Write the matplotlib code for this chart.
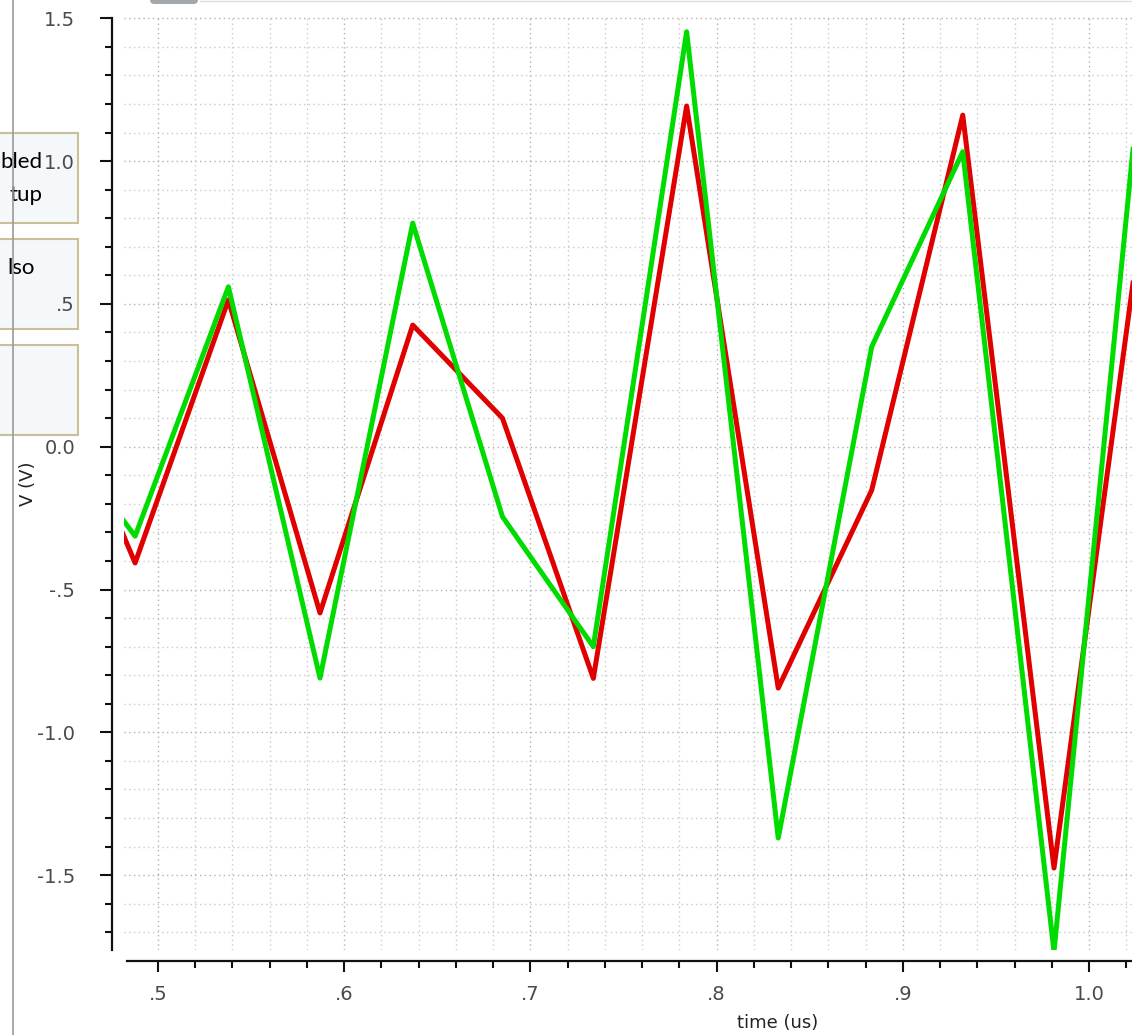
import matplotlib; matplotlib.use("Agg")
import matplotlib.pyplot as plt
from matplotlib.patches import Rectangle, FancyBboxPatch
from matplotlib.lines import Line2D
from matplotlib.ticker import FixedLocator, MultipleLocator

W, H, DPI = 1132, 1035, 100

# sample times (us) of the two waveforms (last point is just past the view)
t = [0.4382, 0.4877, 0.5378, 0.5870, 0.6368, 0.6850, 0.7338,
     0.7839, 0.8331, 0.8833, 0.9322, 0.9812, 1.0304]
v_red = [0.36, -0.407, 0.514, -0.582, 0.426, 0.100, -0.811,
         1.193, -0.845, -0.152, 1.161, -1.475, 0.90]
v_green = [0.12, -0.313, 0.560, -0.810, 0.783, -0.245, -0.700,
           1.453, -1.370, 0.350, 1.033, -1.768, 1.49]

y_ticks = [1.5, 1.0, 0.5, 0.0, -0.5, -1.0, -1.5]
y_labels = ["1.5", "1.0", ".5", "0.0", "-.5", "-1.0", "-1.5"]
x_ticks = [0.5, 0.6, 0.7, 0.8, 0.9, 1.0]
x_labels = [".5", ".6", ".7", ".8", ".9", "1.0"]

# visible remains of the side panel (boxes are cut by the window edge)
side_boxes = [(133, 223), (239, 329), (345, 435)]
side_texts = [("bled", 43, 162), ("tup", 42, 195), ("lso", 35, 268)]


def fx(px):
    return px / W


def fy(py):
    return 1 - py / H


fig = plt.figure(figsize=(W / DPI, H / DPI), dpi=DPI)
fig.patch.set_facecolor("white")

ax = fig.add_axes([fx(124), fy(950), fx(1132) - fx(124), fy(15) - fy(950)])
ax.set_xlim(0.48174, 1.02309)
ax.set_ylim(-1.762, 1.5116)

ax.plot(t, v_red, color="#e00000", lw=3.6, zorder=3)
ax.plot(t, v_green, color="#00dc00", lw=3.6, zorder=4)

# ticks
ax.yaxis.set_major_locator(FixedLocator(y_ticks))
ax.set_yticklabels(y_labels)
ax.yaxis.set_minor_locator(MultipleLocator(0.1))
ax.xaxis.set_major_locator(FixedLocator(x_ticks))
ax.set_xticklabels(x_labels)
ax.xaxis.set_minor_locator(MultipleLocator(0.02))

ax.tick_params(axis="y", which="major", length=8.6, width=1.5, pad=18,
               labelsize=14, labelcolor="#4a4a4a", color="#111111")
ax.tick_params(axis="y", which="minor", length=5, width=1.5, color="#111111")
ax.tick_params(axis="x", which="major", length=8, width=1.5, pad=9,
               labelsize=14, labelcolor="#4a4a4a", color="#111111")
ax.tick_params(axis="x", which="minor", length=5, width=1.5, color="#111111")

ax.grid(which="major", color="#b0b0b0", ls=(0, (1, 2.4)), lw=1.0)
ax.grid(which="minor", color="#cacaca", ls=(0, (1, 2.4)), lw=1.0)
ax.set_axisbelow(True)

for s in ["top", "right"]:
    ax.spines[s].set_visible(False)
ax.spines["left"].set_position(("outward", 8.6))
ax.spines["left"].set_bounds(-1.762, 1.5)
ax.spines["bottom"].set_position(("outward", 7.9))
ax.spines["bottom"].set_bounds(0.48335, 1.02309)
for s in ["left", "bottom"]:
    ax.spines[s].set_linewidth(1.6)
    ax.spines[s].set_color("#111111")

fig.text(fx(28), fy(484), "V (V)", rotation=90, ha="center", va="center",
         fontsize=13, color="#222222")
fig.text(fx(778), fy(1023), "time (us)", ha="center", va="center",
         fontsize=13, color="#222222")

# side panel on the left
for top, bot in side_boxes:
    fig.add_artist(Rectangle((fx(-3), fy(bot)), fx(81), fy(top) - fy(bot),
                             transform=fig.transFigure, facecolor="#f4f8fa",
                             edgecolor="#c9bf98", lw=1.5, zorder=-1))
for txt, xr, yc in side_texts:
    fig.text(fx(xr), fy(yc), txt, ha="right", va="center",
             fontsize=16, family="Lato", color="black")

fig.add_artist(Line2D([fx(13), fx(13)], [0, 1], transform=fig.transFigure,
                      color="#9a9a9a", lw=1.2, zorder=5))

# tab and rule at the top edge
fig.add_artist(FancyBboxPatch((fx(150), fy(4)), fx(48), fy(-6) - fy(4),
                              boxstyle="round,pad=0,rounding_size=0.004",
                              transform=fig.transFigure, facecolor="#a3a8ae",
                              edgecolor="none", zorder=5))
fig.add_artist(Line2D([fx(200), 1], [fy(1), fy(1)], transform=fig.transFigure,
                      color="#dddddd", lw=1.0))

plt.savefig("out.png", dpi=DPI)
plt.close()
